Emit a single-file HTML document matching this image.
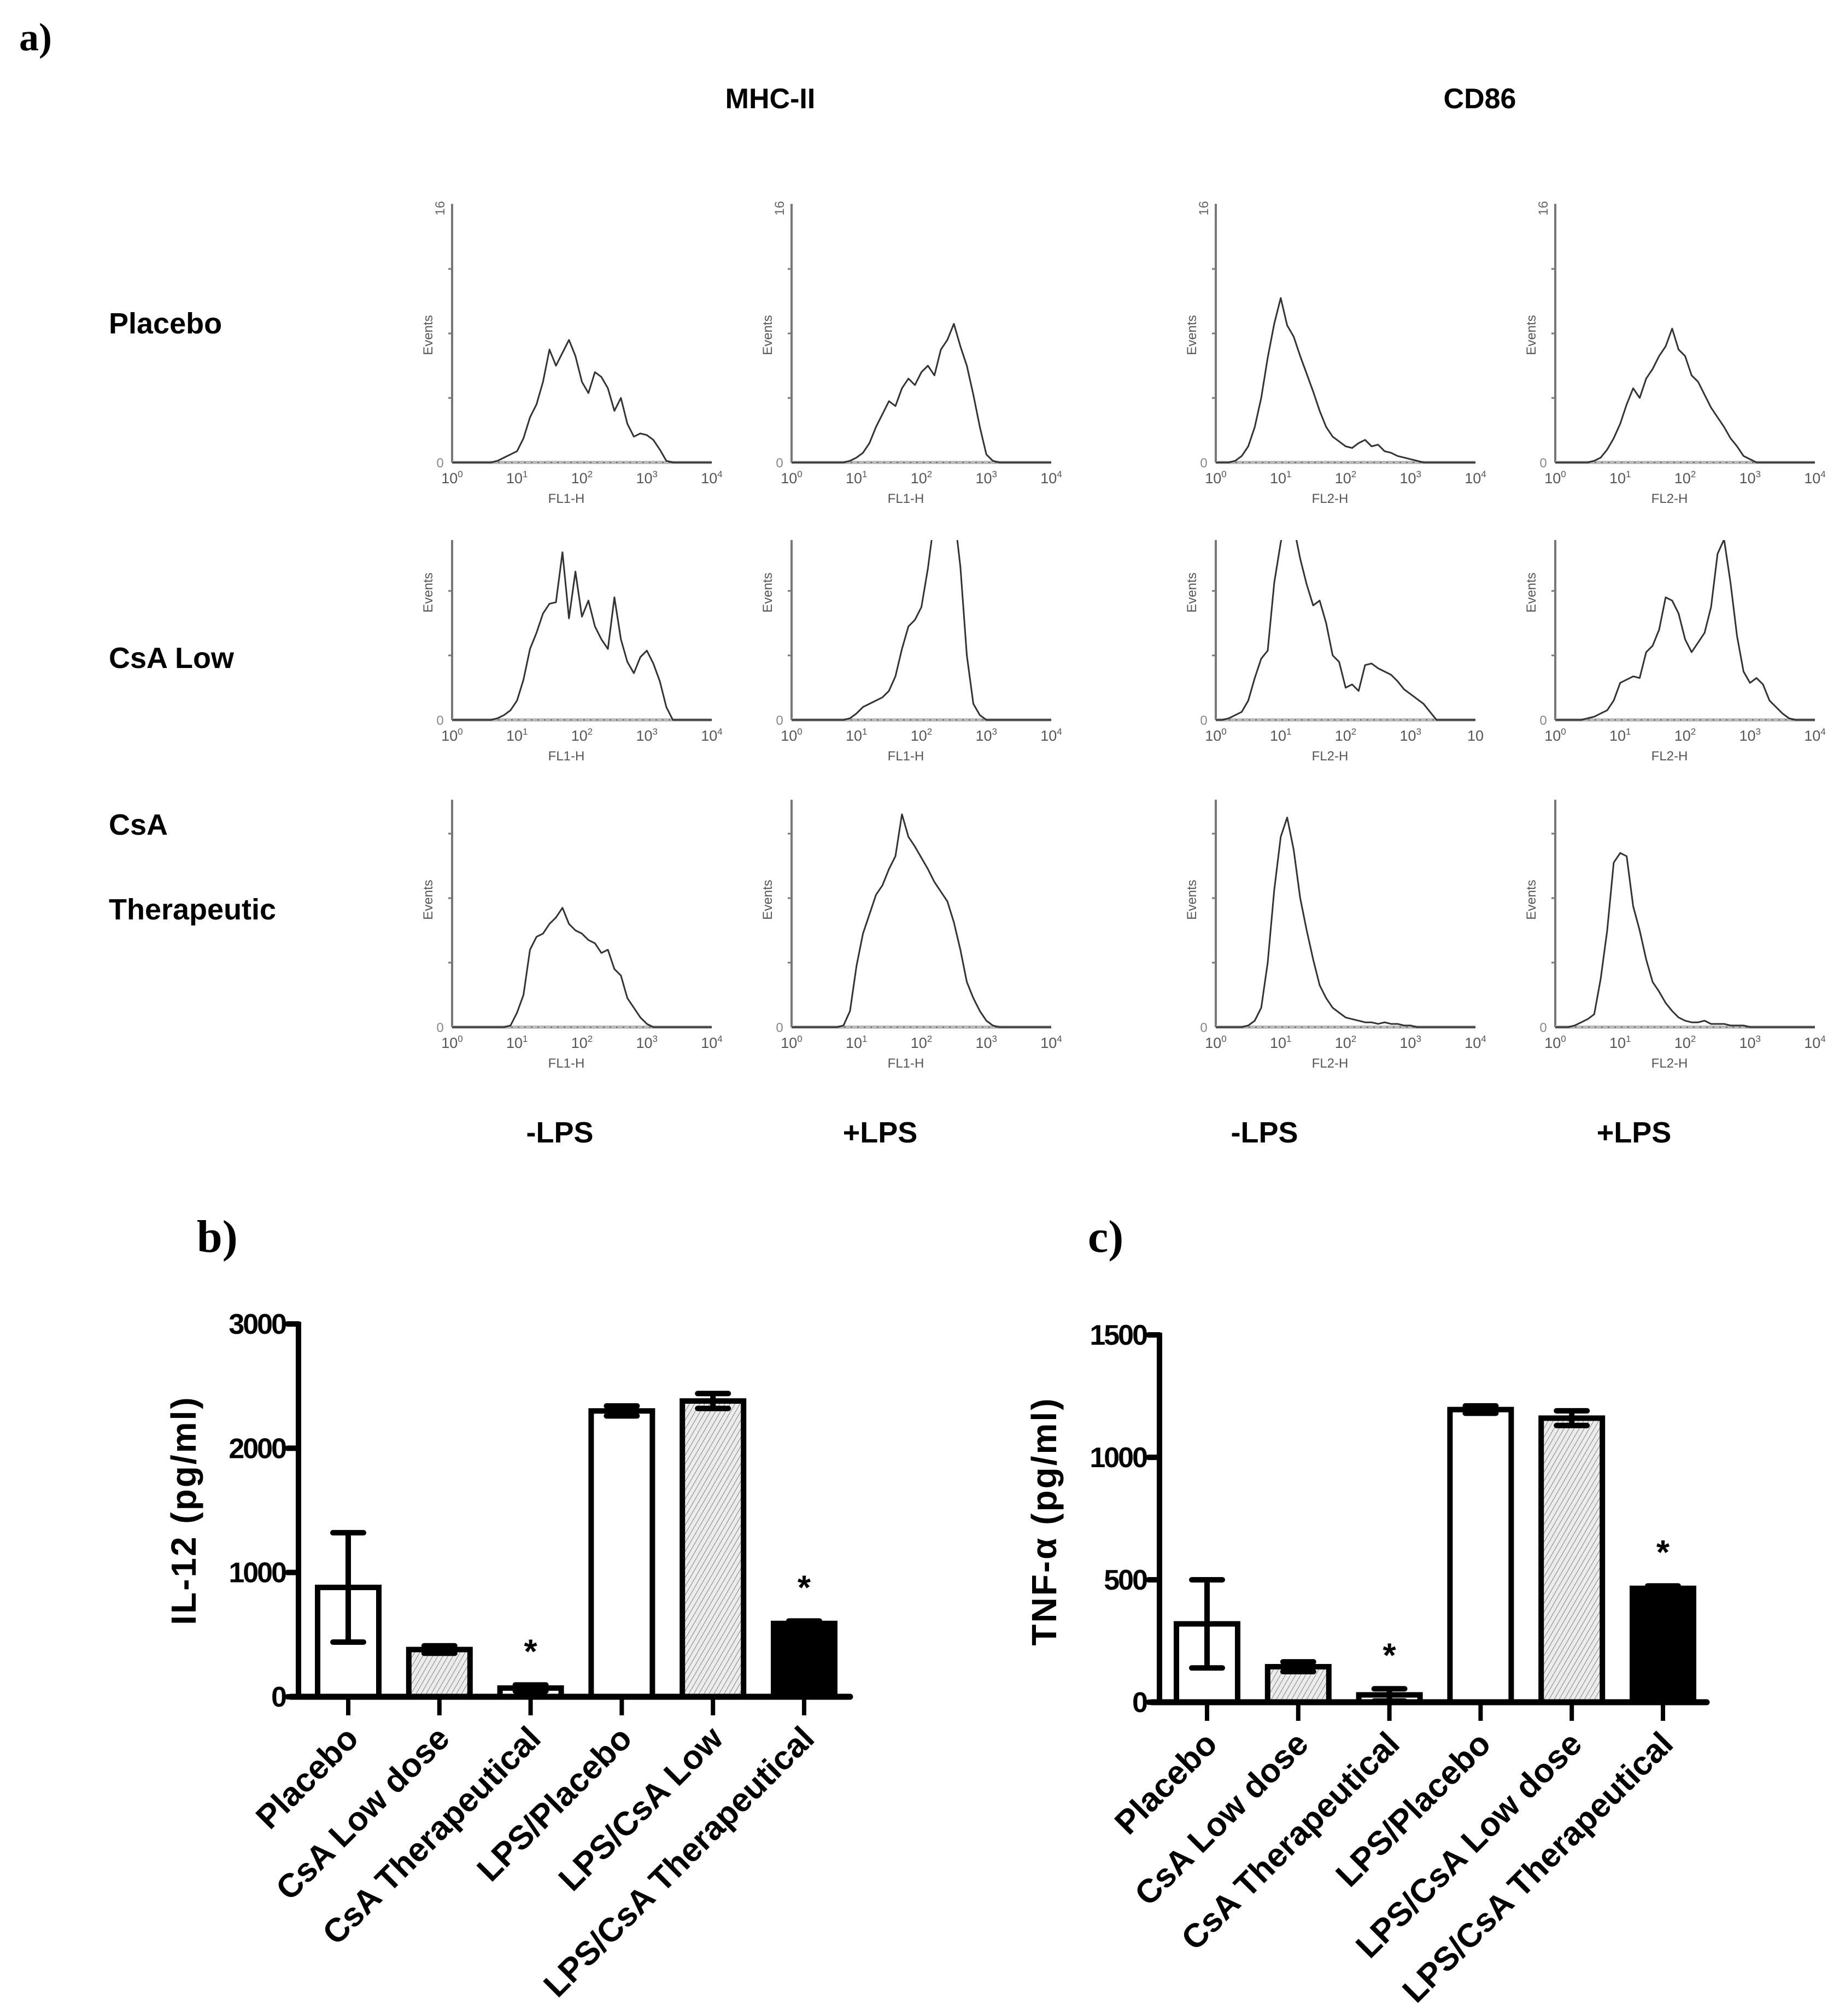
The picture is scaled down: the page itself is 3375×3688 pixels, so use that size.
<!DOCTYPE html>
<html><head><meta charset="utf-8"><style>
html,body{margin:0;padding:0;background:#fff;}
svg{display:block;}
text{font-family:"Liberation Sans",Arial,sans-serif;}
text.serif{font-family:"Liberation Serif","Times New Roman",serif;}
</style></head><body>
<svg id="fig" width="3375" height="3688" viewBox="0 0 3375 3688" xmlns="http://www.w3.org/2000/svg">
<defs>
<pattern id="hatch" patternUnits="userSpaceOnUse" width="8" height="8" patternTransform="rotate(30)">
<rect width="8" height="8" fill="#ececec"/>
<line x1="0" y1="0" x2="0" y2="8" stroke="#666" stroke-width="1.6"/>
</pattern>
</defs>
<text class="serif" x="35" y="92" font-weight="bold" font-size="72">a)</text>
<text x="1409" y="198" text-anchor="middle" font-weight="bold" font-size="52">MHC-II</text>
<text x="2707" y="198" text-anchor="middle" font-weight="bold" font-size="52">CD86</text>
<text x="199" y="610" font-weight="bold" font-size="54">Placebo</text>
<text x="199" y="1222" font-weight="bold" font-size="54">CsA Low</text>
<text x="199" y="1527" font-weight="bold" font-size="54">CsA</text>
<text x="199" y="1682" font-weight="bold" font-size="54">Therapeutic</text>
<text x="1024" y="2090" text-anchor="middle" font-weight="bold" font-size="54">-LPS</text>
<text x="1610" y="2090" text-anchor="middle" font-weight="bold" font-size="54">+LPS</text>
<text x="2313" y="2090" text-anchor="middle" font-weight="bold" font-size="54">-LPS</text>
<text x="2989" y="2090" text-anchor="middle" font-weight="bold" font-size="54">+LPS</text>
<text class="serif" x="360" y="2290" font-weight="bold" font-size="84">b)</text>
<text class="serif" x="1990" y="2290" font-weight="bold" font-size="84">c)</text>
<g id="hists"></g>
<g id="chartB"></g>
<g id="chartC"></g>
</svg>
<script>
// ---------- Panel a histogram data (counts 0-16, bins at log10 = 0.0,0.1,...,4.0) ----------
const histR1C1 = [0,0,0,0,0,0,0,0.1,0.3,0.5,0.7,1.5,2.8,3.6,5.0,7.0,6.0,6.8,7.6,6.6,5.0,4.3,5.6,5.3,4.6,3.2,4.0,2.4,1.6,1.8,1.7,1.4,0.8,0.1,0,0,0,0,0,0,0];
const histR1C2 = [0,0,0,0,0,0,0,0,0,0.1,0.3,0.6,1.2,2.2,3.0,3.8,3.5,4.6,5.2,4.8,5.6,6.0,5.4,7.0,7.6,8.6,7.2,6.0,4.2,2.2,0.5,0.1,0,0,0,0,0,0,0,0,0];
const histR1C3 = [0,0,0,0.1,0.4,1.0,2.2,4.0,6.5,8.6,10.2,8.5,7.8,6.6,5.5,4.4,3.2,2.2,1.6,1.3,1.0,0.9,1.2,1.4,1.0,1.1,0.7,0.6,0.4,0.3,0.2,0.1,0,0,0,0,0,0,0,0,0];
const histR1C4 = [0,0,0,0,0,0,0.1,0.3,0.8,1.5,2.4,3.6,4.6,4.0,5.2,5.8,6.6,7.2,8.3,7.0,6.6,5.4,5.0,4.2,3.4,2.8,2.2,1.5,1.0,0.4,0.2,0,0,0,0,0,0,0,0,0,0];
const histR2C1 = [0,0,0,0,0,0,0,0.1,0.3,0.6,1.2,2.5,4.4,5.4,6.6,7.2,7.3,10.4,6.3,9.2,6.4,7.4,5.8,5.0,4.4,7.6,5.0,3.6,2.9,3.9,4.3,3.5,2.4,0.8,0,0,0,0,0,0,0];
const histR2C2 = [0,0,0,0,0,0,0,0,0,0.1,0.4,0.8,1.0,1.2,1.4,1.8,2.7,4.4,5.8,6.2,7.0,9.4,12.5,14.5,15,13,9.5,4.0,1.0,0.3,0,0,0,0,0,0,0,0,0,0,0];
const histR2C3 = [0,0,0.1,0.3,0.5,1.2,2.6,3.8,4.3,8.5,11.0,12.6,12.0,10.0,8.4,7.1,7.4,6.0,4.0,3.6,2.0,2.2,1.8,3.4,3.5,3.2,3.0,2.8,2.4,1.9,1.6,1.3,1.0,0.5,0,0,0,0,0,0,0];
const histR2C4 = [0,0,0,0,0,0.1,0.2,0.4,0.6,1.2,2.3,2.5,2.7,2.6,4.2,4.6,5.6,7.6,7.4,6.6,5.0,4.2,4.8,5.4,7.0,10.3,11.2,8.5,5.2,3.0,2.3,2.6,2.2,1.2,0.8,0.4,0.1,0,0,0,0];
const histR3C1 = [0,0,0,0,0,0,0,0,0,0.1,0.9,2.0,4.8,5.6,5.8,6.4,6.8,7.4,6.4,6.0,5.8,5.4,5.2,4.6,4.8,3.6,3.2,1.8,1.2,0.6,0.2,0,0,0,0,0,0,0,0,0,0];
const histR3C2 = [0,0,0,0,0,0,0,0,0.1,1.0,3.8,5.8,7.0,8.2,8.8,9.8,10.6,13.2,11.8,11.2,10.5,9.8,9.0,8.4,7.8,6.5,4.8,2.8,1.8,1.0,0.4,0.1,0,0,0,0,0,0,0,0,0];
const histR3C3 = [0,0,0,0,0,0.1,0.4,1.2,4.0,8.5,11.8,13.0,11.0,8.0,6.0,4.2,2.6,1.8,1.2,0.9,0.6,0.5,0.4,0.3,0.3,0.2,0.3,0.2,0.2,0.1,0.1,0,0,0,0,0,0,0,0,0,0];
const histR3C4 = [0,0,0,0.1,0.3,0.5,0.8,3.0,6.0,10.2,10.8,10.6,7.5,6.0,4.2,2.8,2.2,1.5,1.0,0.6,0.4,0.3,0.3,0.4,0.2,0.2,0.2,0.1,0.1,0.1,0,0,0,0,0,0,0,0,0,0,0];
const decadeLabels = ["0","1","2","3","4"];
const histMax = 16;

// ---------- Panel b / c bar data ----------
const barCategoriesB = ["Placebo","CsA Low dose","CsA Therapeutical","LPS/Placebo","LPS/CsA Low","LPS/CsA Therapeutical"];
const il12Values = [880, 380, 70, 2300, 2380, 590];
const il12Errors = [440, 30, 25, 40, 60, 20];
const il12Ticks = [0, 1000, 2000, 3000];
const il12Signif = [false, false, true, false, false, true];

const barCategoriesC = ["Placebo","CsA Low dose","CsA Therapeutical","LPS/Placebo","LPS/CsA Low dose","LPS/CsA Therapeutical"];
const tnfValues = [320, 145, 30, 1195, 1160, 465];
const tnfErrors = [180, 20, 25, 15, 30, 10];
const tnfTicks = [0, 500, 1000, 1500];
const tnfSignif = [false, false, true, false, false, true];
const barFills = ["#fff", "url(#hatch)", "#fff", "#fff", "url(#hatch)", "#000"];

const NS = "http://www.w3.org/2000/svg";
function mk(tag, attrs, parent){
  const e = document.createElementNS(NS, tag);
  for (const k in attrs) e.setAttribute(k, attrs[k]);
  parent.appendChild(e);
  return e;
}

// ---------- histograms ----------
const hg = document.getElementById('hists');
const colX = [827, 1448, 2224, 2845];
const plotW = 475;
const rowZero = [846, 1317, 1879];
const rowTop = [373, 988, 1463];
const unitPx = 29.5;
const histGrid = [[histR1C1,histR1C2,histR1C3,histR1C4],[histR2C1,histR2C2,histR2C3,histR2C4],[histR3C1,histR3C2,histR3C3,histR3C4]];
const rowNames = ["placebo","csa-low","csa-therapeutic"];
const colNames = ["mhc-minus-lps","mhc-plus-lps","cd86-minus-lps","cd86-plus-lps"];
let clipId = 0;
for (let r = 0; r < 3; r++){
  for (let c = 0; c < 4; c++){
    const x0 = colX[c], z = rowZero[r], top = rowTop[r];
    const g = mk('g', {}, hg);
    
    
    const xs = v => x0 + v / 4 * plotW;
    const ys = v => z - v * unitPx;
    const ya = mk('line', {x1:x0, y1:top, x2:x0, y2:z, stroke:'#777', 'stroke-width':4}, g);
    
    
    for (let q = 1; q < 4; q++){
      const ty = z - q * histMax / 4 * unitPx;
      if (ty >= top) mk('line', {x1:x0-7, y1:ty, x2:x0, y2:ty, stroke:'#777', 'stroke-width':3}, g);
    }
    const xa = mk('line', {x1:x0, y1:z, x2:x0+plotW, y2:z, stroke:'#bbb', 'stroke-width':6}, g);
    
    
    mk('line', {x1:x0, y1:z, x2:x0+plotW, y2:z, stroke:'#666', 'stroke-width':2, 'stroke-dasharray':'3 9'}, g);
    decadeLabels.forEach((d, i) => {
      const tx = xs(i);
      const t = mk('text', {x:tx, y:z+38, 'text-anchor':'middle', 'font-size':27, fill:'#555'}, g);
      
      
      t.textContent = '10';
      if (!(r === 1 && c === 2 && i === 4)){
        const s = mk('tspan', {dy:-11, 'font-size':17}, t);
        s.textContent = d;
      }
    });
    const xl = mk('text', {x:x0+plotW*0.44, y:z+74, 'text-anchor':'middle', 'font-size':24, fill:'#555'}, g);
    
    
    xl.textContent = c < 2 ? 'FL1-H' : 'FL2-H';
    const ev = mk('text', {x:0, y:0, 'text-anchor':'middle', 'font-size':24, fill:'#555', transform:'translate(' + (x0-36) + ',' + (z-233) + ') rotate(-90)'}, g);
    
    
    ev.textContent = 'Events';
    const zl = mk('text', {x:x0-22, y:z+9, 'text-anchor':'middle', 'font-size':24, fill:'#888'}, g);
    
    
    zl.textContent = '0';
    if (r === 0){
      const tl = mk('text', {x:0, y:0, 'text-anchor':'middle', 'font-size':24, fill:'#666', transform:'translate(' + (x0-14) + ',' + (top+8) + ') rotate(-90)'}, g);
      
      
      tl.textContent = '16';
    }
    const cp = mk('clipPath', {id:'hc' + clipId}, g);
    mk('rect', {x:x0, y:top, width:plotW+5, height:z-top+2}, cp);
    const data = histGrid[r][c];
    const pts = data.map((v, i) => xs(i * 0.1).toFixed(1) + ',' + ys(v).toFixed(1)).join(' ');
    const pl = mk('polyline', {points:pts, fill:'none', stroke:'#333', 'stroke-width':3, 'stroke-linejoin':'round', 'clip-path':'url(#hc' + clipId + ')'}, g);
    
    
    clipId++;
  }
}

// ---------- bar charts ----------
function barChart(gid, cfg){
  const g = document.getElementById(gid);
  const ys = v => cfg.y0 - v / cfg.max * (cfg.y0 - cfg.yTop);
  const xs = i => cfg.x1 + i * cfg.step;
  cfg.values.forEach((v, i) => {
    const bw = 112, cx = xs(i);
    const b = mk('rect', {x:cx-bw/2, y:ys(v), width:bw, height:cfg.y0-ys(v), fill:barFills[i], stroke:'#000', 'stroke-width':10}, g);
    
    
    const e = cfg.errors[i];
    const eg = mk('g', {stroke:'#000', 'stroke-width':10, 'stroke-linecap':'round'}, g);
    
    
    mk('line', {x1:cx, y1:ys(v+e), x2:cx, y2:ys(Math.max(0, v-e)), 'stroke-linecap':'butt'}, eg);
    mk('line', {x1:cx-28, y1:ys(v+e), x2:cx+28, y2:ys(v+e)}, eg);
    mk('line', {x1:cx-28, y1:ys(Math.max(0, v-e)), x2:cx+28, y2:ys(Math.max(0, v-e))}, eg);
    if (cfg.signif[i]){
      const s = mk('text', {x:cx, y:ys(v+e) - cfg.starGap, 'text-anchor':'middle', 'font-size':62, 'font-weight':'bold'}, g);
      
      
      s.textContent = '*';
    }
    const tk = mk('line', {x1:cx, y1:cfg.y0, x2:cx, y2:cfg.y0+34, stroke:'#000', 'stroke-width':8}, g);
    
    
    const lb = mk('text', {x:0, y:0, 'text-anchor':'end', 'font-size':61, 'font-weight':'bold', transform:'translate(' + (cx+22) + ',' + (cfg.y0+80) + ') rotate(-45)'}, g);
    
    
    lb.textContent = cfg.cats[i];
  });
  const ya = mk('line', {x1:cfg.x0, y1:cfg.yTop-4, x2:cfg.x0, y2:cfg.y0, stroke:'#000', 'stroke-width':10}, g);
  
  
  const xa = mk('line', {x1:cfg.x0-14, y1:cfg.y0, x2:cfg.xEnd, y2:cfg.y0, stroke:'#000', 'stroke-width':11, 'stroke-linecap':'round'}, g);
  
  
  cfg.ticks.forEach(t => {
    const ty = ys(t);
    mk('line', {x1:cfg.x0-20, y1:ty, x2:cfg.x0, y2:ty, stroke:'#000', 'stroke-width':10, 'stroke-linecap':'round'}, g);
    const tl = mk('text', {x:cfg.x0-24, y:ty+18, 'text-anchor':'end', 'font-size':52, 'font-weight':'bold', 'letter-spacing':'-3'}, g);
    
    
    tl.textContent = String(t);
  });
  const yt = mk('text', {x:0, y:0, 'text-anchor':'middle', 'font-size':64, 'font-weight':'bold', 'letter-spacing':'3', transform:'translate(' + cfg.titleX + ',' + cfg.titleY + ') rotate(-90)'}, g);
  
  
  yt.textContent = cfg.title;
}
barChart('chartB', {x0:546, x1:637, step:166.8, y0:3104, yTop:2422, max:3000, xEnd:1555,
  values:il12Values, errors:il12Errors, ticks:il12Ticks, signif:il12Signif, cats:barCategoriesB,
  title:'IL-12 (pg/ml)', titleX:358, titleY:2763, starGap:40});
barChart('chartC', {x0:2121, x1:2208, step:166.8, y0:3114, yTop:2442, max:1500, xEnd:3122,
  values:tnfValues, errors:tnfErrors, ticks:tnfTicks, signif:tnfSignif, cats:barCategoriesC,
  title:'TNF-\u03b1 (pg/ml)', titleX:1932, titleY:2783, starGap:40});
</script>
</body></html>
